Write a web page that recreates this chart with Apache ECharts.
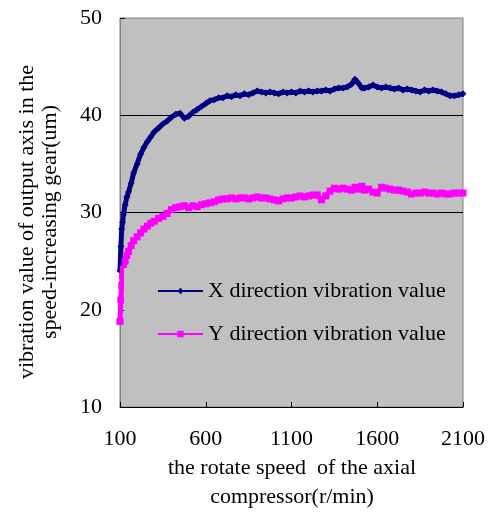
<!DOCTYPE html>
<html><head><meta charset="utf-8">
<script src="https://cdn.jsdelivr.net/npm/echarts@6/dist/echarts.min.js"></script>
<style>html,body{margin:0;padding:0;background:#fff}#c{width:488px;height:512px}</style>
</head><body><div id="c"></div>
<script>
const speeds = [100,105,110,115,120,130,140,150,165,180,200,220,240,260,280,300,325,350,375,400,425,450,475,500,525,550,575,600,625,650,675,700,725,750,775,800,825,850,875,900,925,950,975,1000,1025,1050,1075,1100,1125,1150,1175,1200,1225,1250,1275,1300,1325,1350,1375,1400,1425,1450,1470,1490,1510,1525,1550,1575,1600,1625,1650,1675,1700,1725,1750,1775,1800,1825,1850,1875,1900,1925,1950,1975,2000,2025,2050,2075,2100];
const xVib = [24.0,26.5,28.3,29.0,29.8,30.8,31.6,32.1,33.0,34.1,35.0,36.0,36.7,37.3,37.8,38.3,38.7,39.1,39.4,39.8,40.1,40.2,39.7,39.9,40.3,40.6,40.9,41.2,41.5,41.6,41.8,41.8,42.0,41.9,42.1,42.0,42.2,42.1,42.3,42.5,42.4,42.3,42.4,42.3,42.2,42.4,42.3,42.4,42.3,42.5,42.4,42.5,42.4,42.5,42.5,42.6,42.5,42.7,42.8,42.8,42.9,43.2,43.7,43.3,42.8,42.8,42.9,43.1,42.9,42.8,42.9,42.8,42.7,42.8,42.6,42.7,42.6,42.5,42.4,42.6,42.5,42.6,42.5,42.4,42.2,42.0,42.0,42.1,42.2];
const yVib = [18.8,21.0,22.5,23.5,24.2,25.0,25.6,26.0,26.6,27.1,27.5,27.9,28.3,28.6,28.9,29.1,29.4,29.6,29.9,30.3,30.5,30.6,30.7,30.5,30.7,30.6,30.8,30.9,31.0,31.1,31.3,31.4,31.4,31.5,31.4,31.5,31.5,31.4,31.5,31.6,31.5,31.5,31.4,31.3,31.2,31.4,31.5,31.5,31.6,31.7,31.6,31.7,31.8,31.8,31.3,31.7,32.2,32.5,32.4,32.5,32.4,32.3,32.6,32.4,32.7,32.3,32.4,32.1,32.0,32.6,32.5,32.4,32.3,32.3,32.2,32.1,31.9,32.0,32.0,32.1,32.0,32.0,31.9,32.0,31.9,31.9,32.0,32.0,32.0];
const xTicks = [100, 600, 1100, 1600, 2100];
const seriesNames = ['X direction vibration value', 'Y direction vibration value'];
const xTitle = 'the rotate speed  of the axial\ncompressor(r/min)';
const yTitle = 'vibration value of output axis in the\nspeed-increasing gear(um)';

const FONT = '"Liberation Serif","Times New Roman",serif';
const FS = 22;
const chart = echarts.init(document.getElementById('c'), null, {renderer: 'canvas'});
const pairs = arr => speeds.map((s, i) => [s, arr[i]]);
chart.setOption({
  animation: false,
  grid: {left: 120, right: 25, top: 18, bottom: 105, show: true, backgroundColor: '#c0c0c0', borderColor: '#808080', borderWidth: 1},
  xAxis: {
    type: 'value', min: xTicks[0], max: xTicks[xTicks.length - 1], interval: 500,
    axisLine: {show: true, lineStyle: {color: '#000', width: 1}},
    axisTick: {show: true, inside: true, length: 5, lineStyle: {color: '#000'}},
    axisLabel: {color: '#000', fontFamily: FONT, fontSize: FS, margin: 21, formatter: v => String(v)},
    splitLine: {show: false}
  },
  yAxis: {
    type: 'value', min: 10, max: 50, interval: 10,
    axisLine: {show: true, lineStyle: {color: '#808080', width: 1}},
    axisTick: {show: true, inside: true, length: 5, lineStyle: {color: '#000'}},
    axisLabel: {color: '#000', fontFamily: FONT, fontSize: FS, margin: 18, formatter: v => String(v)},
    splitLine: {show: true, lineStyle: {color: ['rgba(0,0,0,0)', 'rgba(0,0,0,0)', '#000', '#000', 'rgba(0,0,0,0)'], width: 1}}
  },
  legend: {
    orient: 'vertical', left: 124, top: 268,
    padding: [12, 9, 12, 33], itemGap: 21,
    backgroundColor: '#c0c0c0',
    itemWidth: 45, itemHeight: 8,
    textStyle: {color: '#000', fontFamily: FONT, fontSize: FS},
    data: seriesNames
  },
  series: [
    {name: seriesNames[0], type: 'line', data: pairs(xVib), symbol: 'diamond', symbolSize: 7, showSymbol: true,
     itemStyle: {color: '#000080'}, lineStyle: {color: '#000080', width: 5}},
    {name: seriesNames[1], type: 'line', data: pairs(yVib), symbol: 'rect', symbolSize: 7, showSymbol: true,
     itemStyle: {color: '#ff00ff'}, lineStyle: {color: '#ff00ff', width: 5}}
  ],
  graphic: [
    {type: 'text', x: 292, y: 483, style: {text: xTitle, font: FS + 'px ' + FONT, fill: '#000', align: 'center', verticalAlign: 'middle', lineHeight: 29}},
    {type: 'text', x: 39, y: 222, rotation: Math.PI / 2, style: {text: yTitle, font: FS + 'px ' + FONT, fill: '#000', align: 'center', verticalAlign: 'middle', lineHeight: 23}}
  ]
});
</script></body></html>
